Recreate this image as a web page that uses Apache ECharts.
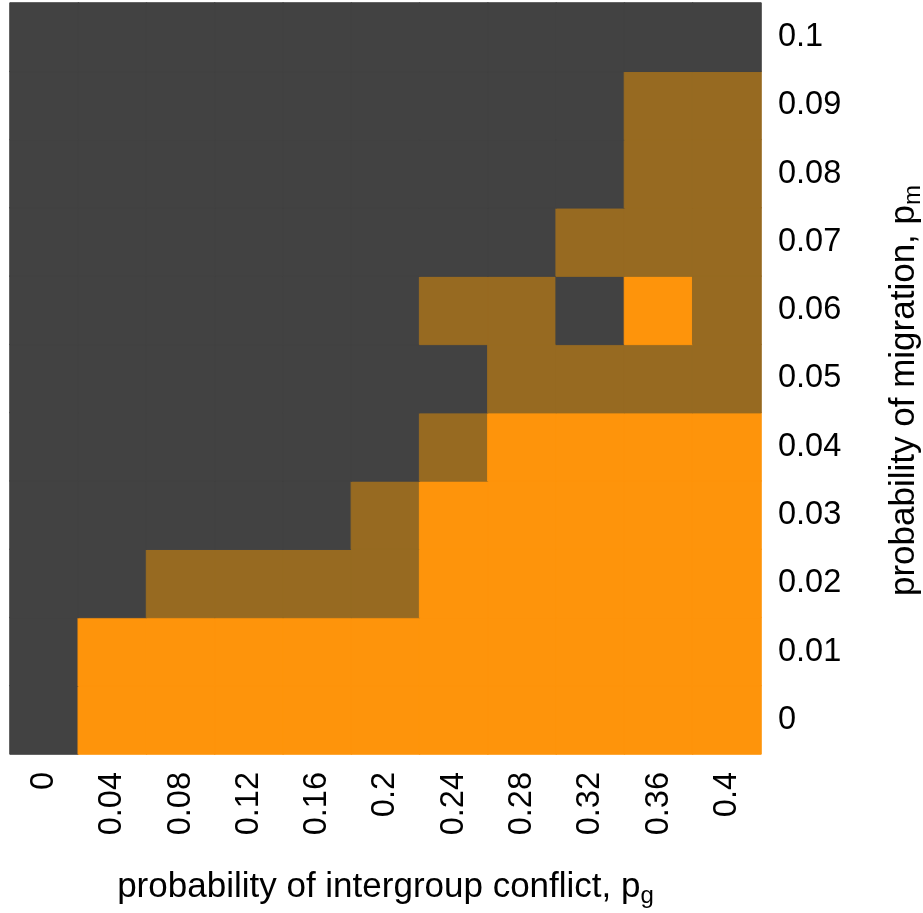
<!DOCTYPE html>
<html>
<head>
<meta charset="utf-8">
<script src="https://cdn.jsdelivr.net/npm/echarts@6/dist/echarts.min.js"></script>
<style>
html,body{margin:0;padding:0;background:#fff;}
#chart{width:923px;height:913px;}
</style>
</head>
<body>
<div id="chart"></div>
<script>
// x: probability of intergroup conflict
const xLabels = ['0','0.04','0.08','0.12','0.16','0.2','0.24','0.28','0.32','0.36','0.4'];
// y: probability of migration
const yLabels = ['0','0.01','0.02','0.03','0.04','0.05','0.06','0.07','0.08','0.09','0.1'];
// outcome class per cell (0 = dark, 1 = intermediate, 2 = orange), one row per y value
const row_0    = [0,2,2,2,2,2,2,2,2,2,2];
const row_0_01 = [0,2,2,2,2,2,2,2,2,2,2];
const row_0_02 = [0,0,1,1,1,1,2,2,2,2,2];
const row_0_03 = [0,0,0,0,0,1,2,2,2,2,2];
const row_0_04 = [0,0,0,0,0,0,1,2,2,2,2];
const row_0_05 = [0,0,0,0,0,0,0,1,1,1,1];
const row_0_06 = [0,0,0,0,0,0,1,1,0,2,1];
const row_0_07 = [0,0,0,0,0,0,0,0,1,1,1];
const row_0_08 = [0,0,0,0,0,0,0,0,0,1,1];
const row_0_09 = [0,0,0,0,0,0,0,0,0,1,1];
const row_0_1  = [0,0,0,0,0,0,0,0,0,0,0];
const rows = [row_0,row_0_01,row_0_02,row_0_03,row_0_04,row_0_05,row_0_06,row_0_07,row_0_08,row_0_09,row_0_1];
const classColors = ['#424242', '#976A21', '#FE940B'];

const data = [];
rows.forEach((r, yi) => r.forEach((v, xi) => data.push({
  value: [xi, yi, v],
  itemStyle: {color: classColors[v], borderColor: classColors[v], borderWidth: 1}
})));

const FONT = 'Liberation Sans, Arial, sans-serif';
const chart = echarts.init(document.getElementById('chart'), null, {renderer:'canvas'});
chart.setOption({
  animation: false,
  backgroundColor: '#ffffff',
  grid: {left: 10, top: 3, width: 751, height: 751, containLabel: false, outerBoundsMode: 'none'},
  xAxis: {
    type: 'category',
    data: xLabels,
    axisLine: {show: false},
    axisTick: {show: false},
    splitArea: {show: false},
    axisLabel: {rotate: 90, margin: 18, fontSize: 32.5, color: '#000', fontFamily: FONT, interval: 0},
    name: 'probability of intergroup conflict, p{sub|g}',
    nameLocation: 'middle',
    nameGap: 112,
    nameMoveOverlap: false,
    nameTextStyle: {
      fontSize: 35, color: '#000', fontFamily: FONT,
      rich: {sub: {fontSize: 24, color: '#000', fontFamily: FONT, padding: [18,0,0,0]}}
    }
  },
  yAxis: {
    type: 'category',
    data: yLabels,
    position: 'right',
    axisLine: {show: false},
    axisTick: {show: false},
    splitArea: {show: false},
    axisLabel: {margin: 17, fontSize: 32.5, color: '#000', fontFamily: FONT, interval: 0, align: 'left'},
    name: 'probability of migration, p{sub|m}',
    nameLocation: 'middle',
    nameRotate: 90,
    nameGap: 122,
    nameMoveOverlap: false,
    nameTextStyle: {
      fontSize: 35, color: '#000', fontFamily: FONT,
      padding: [0, 24, 0, 0],
      rich: {sub: {fontSize: 24, color: '#000', fontFamily: FONT, padding: [18,0,0,0]}}
    }
  },
  series: [{
    type: 'heatmap',
    data: data,
    emphasis: {disabled: true},
    progressive: 0
  }]
});
</script>
</body>
</html>
